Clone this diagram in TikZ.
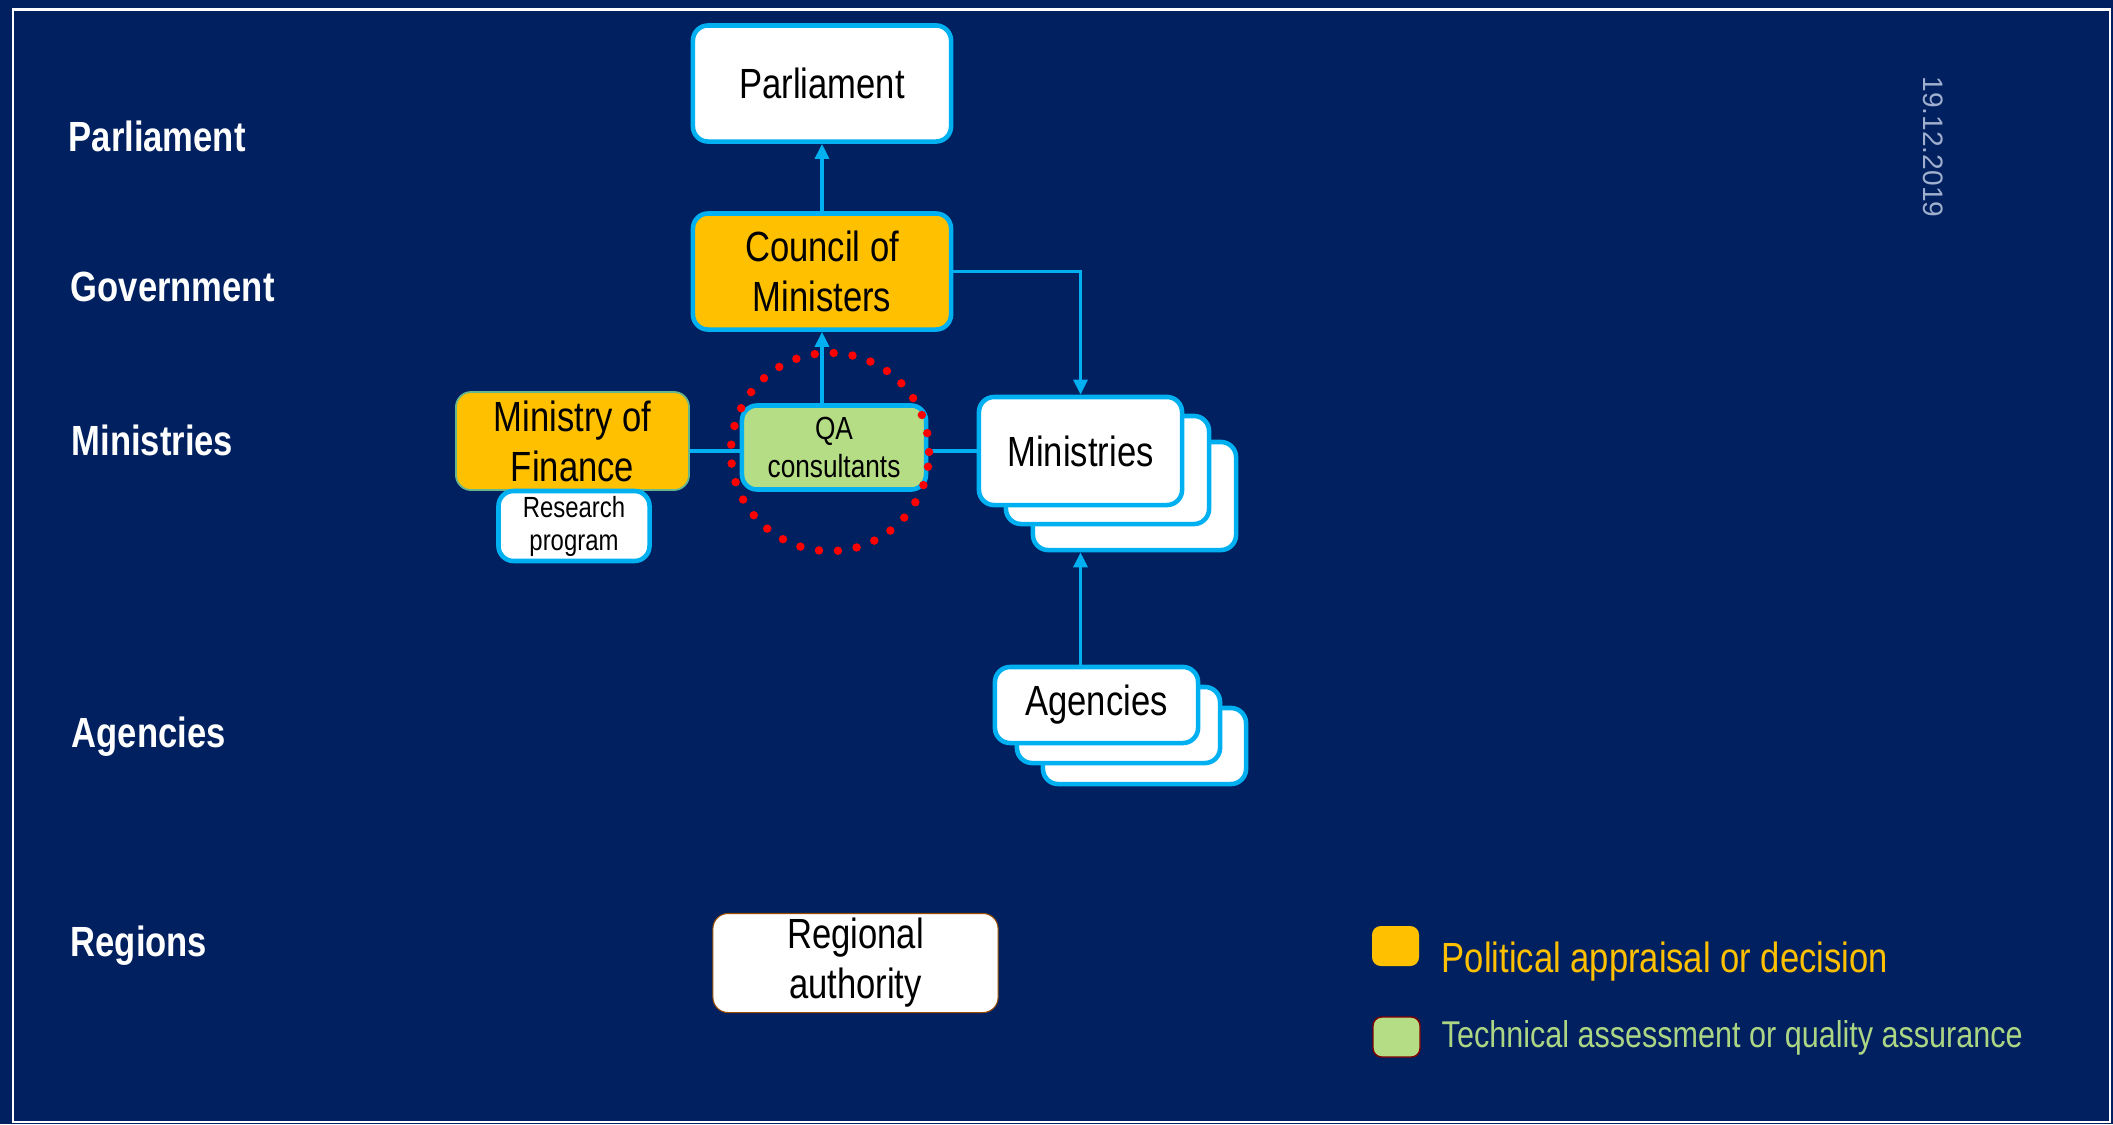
\documentclass[tikz,border=0pt]{standalone}
\usepackage{fontspec}
\setmainfont{Liberation Sans}[FakeStretch=0.82]
\newfontfamily\datefont{Liberation Sans}
\usetikzlibrary{arrows.meta}

\definecolor{bgblue}{RGB}{0, 32, 96}
\definecolor{boxcyan}{RGB}{0, 176, 240}
\definecolor{polorange}{RGB}{255, 192, 0}
\definecolor{techgreen}{RGB}{181, 221, 134}
\definecolor{legendgreen}{RGB}{172, 214, 132}
\definecolor{qadots}{RGB}{255, 0, 0}
\definecolor{datecol}{RGB}{160, 175, 205}

\tikzset{
    box/.style={draw=boxcyan, line width=1.3pt, rounded corners=4.3pt, fill=white,
        inner sep=0pt, align=center, text=black, font=\fontsize{12}{14.2}\selectfont},
    polbox/.style={box, fill=polorange},
    techbox/.style={box, fill=techgreen, font=\fontsize{9.1}{10.8}\selectfont},
    rowlabel/.style={anchor=base west, inner sep=0pt, text=white, font=\bfseries\fontsize{12}{14}\selectfont},
    arr/.style={draw=boxcyan, line width=0.9pt, -{Triangle[length=4.3pt, width=4pt]}},
    link/.style={draw=boxcyan, line width=1.2pt},
    legsquare/.style={rounded corners=2.5pt, minimum width=0.47cm, minimum height=0.40cm, inner sep=0pt},
    legtext/.style={anchor=base west, inner sep=0pt}
}

\begin{document}
\begin{tikzpicture}[x=0.01cm, y=-0.01cm]
    % background and frame
    \fill[bgblue] (0,0) rectangle (2113,1124);
    \useasboundingbox (0,0) rectangle (2113,1124);
    \draw[white, line width=0.6pt] (13,9.5) rectangle (2110,1122);

    % Row labels
    \node[rowlabel] (lblparl) at (68,151) {Parliament};
    \node[rowlabel] (lblgov) at (70,301) {Government};
    \node[rowlabel] (lblmin) at (71,455) {Ministries};
    \node[rowlabel] (lblag) at (71,747) {Agencies};
    \node[rowlabel] (lblreg) at (70,956) {Regions};

    % Date
    \node[rotate=-90, text=datecol, inner sep=0pt, font=\datefont\fontsize{8}{8}\selectfont] (date) at (1933,147) {19.12.2019};

    % Stacked ministries (back to front)
    \node[box, minimum width=2.03cm, minimum height=1.08cm] (min3) at (1134.5,496) {};
    \node[box, minimum width=2.03cm, minimum height=1.08cm] (min2) at (1107.5,470) {};
    \node[box, minimum width=2.03cm, minimum height=1.08cm] (min1) at (1080.5,451) {Ministries};

    % Stacked agencies (back to front)
    \node[box, minimum width=2.03cm, minimum height=0.76cm] (ag3) at (1144.5,746) {};
    \node[box, minimum width=2.03cm, minimum height=0.76cm] (ag2) at (1118.5,725) {};
    \node[box, minimum width=2.03cm, minimum height=0.76cm] (ag1) at (1096.5,705) {Agencies};

    % Main boxes
    \node[box, minimum width=2.58cm, minimum height=1.16cm] (parl) at (822,83.5) {Parliament};
    \node[polbox, minimum width=2.58cm, minimum height=1.16cm] (council) at (822,271.5) {Council of\\Ministers};
    \node[polbox, draw=boxcyan!60!polorange, line width=0.5pt, minimum width=2.33cm, minimum height=0.98cm] (mof) at (572.5,441) {Ministry of\\Finance};
    \node[box, minimum width=1.51cm, minimum height=0.70cm, font=\fontsize{8.3}{9.4}\selectfont] (research) at (574,526) {Research\\program};
    \node[techbox, minimum width=1.84cm, minimum height=0.84cm] (qa) at (834,447.5) {QA\\consultants};
    \node[box, draw=orange!60!black, line width=0.3pt, minimum width=2.85cm, minimum height=0.99cm] (region) at (855.5,963) {Regional\\authority};

    % Connectors
    \draw[arr] (council) -- (parl);
    \draw[arr] (council.south |- qa.north) -- (council.south);
    \draw[arr] (council.east) -| (min1.north);
    \draw[link] (mof.east |- min1.west) -- (qa.west |- min1.west);
    \draw[link] (qa.east |- min1.west) -- (min1.west);
    \draw[arr] (min1.south |- ag1.north) -- (min1.south |- min3.south);

    % Red dotted ring round QA
    \draw[qadots, line width=2.4pt, line cap=round, dash pattern=on 0pt off 5.4pt] (830,452) circle (0.99cm);

    % Legend
    \node[legsquare, fill=polorange] (legpol) at (1395.5,946) {};
    \node[legtext, text=polorange, font=\fontsize{12}{14}\selectfont] (legpoltxt) at (1441,972) {Political appraisal or decision};
    \node[legsquare, fill=techgreen, draw=red!50!black, line width=0.4pt] (legtech) at (1396.5,1037) {};
    \node[legtext, text=legendgreen, font=\fontsize{10.6}{12}\selectfont] (legtechtxt) at (1441,1047) {Technical assessment or quality assurance};

\end{tikzpicture}
\end{document}
